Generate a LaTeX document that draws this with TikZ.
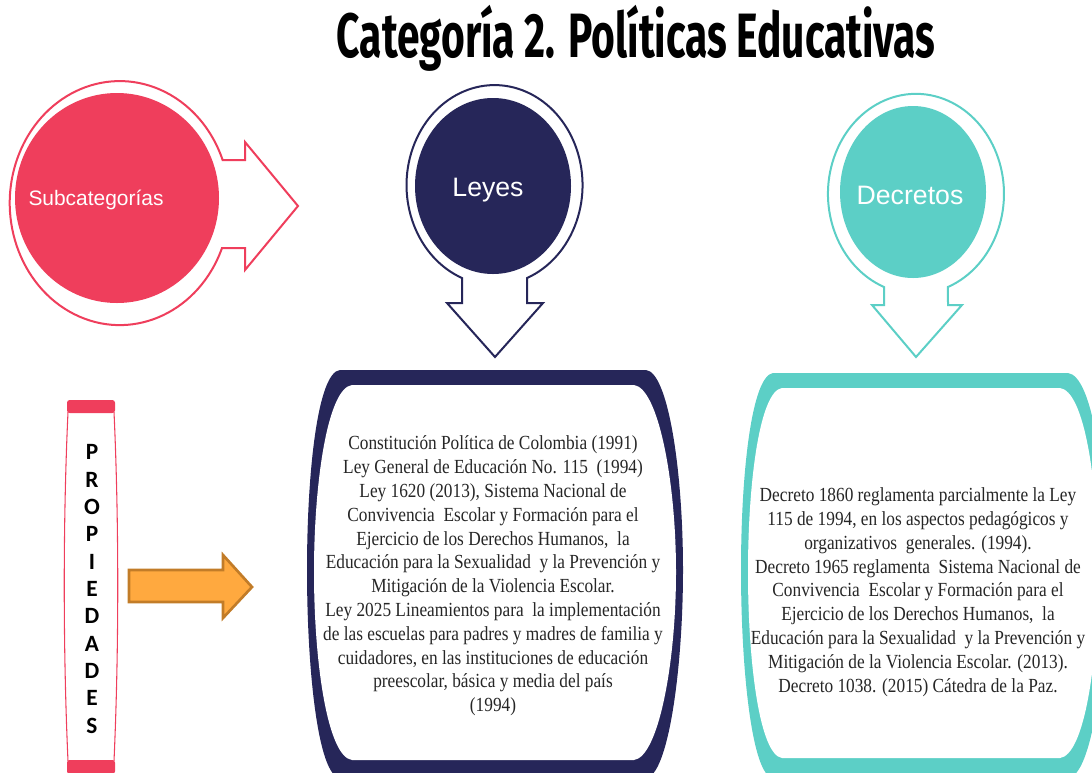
\documentclass[tikz,border=0pt]{standalone}
\usepackage{fontspec}
\usepackage{tikz}
\usetikzlibrary{calc}
\setmainfont{Liberation Serif}
\newfontfamily\bodyfont{Liberation Serif}[FakeStretch=0.865]
\newfontfamily\titlefont{Fira Sans}[FakeStretch=0.65]
\newfontfamily\labelfont{Liberation Sans}
\newfontfamily\propfont{Carlito}
\definecolor{pinkc}{HTML}{EF3E5C}
\definecolor{navyc}{HTML}{262659}
\definecolor{tealc}{HTML}{5CCFC6}
\definecolor{orangec}{HTML}{FFA93F}
\definecolor{orangeline}{HTML}{C27C28}
\definecolor{textc}{HTML}{262626}
\tikzset{
  ring/.style={fill=white, line width=1.5},
  circlab/.style={text=white, font=\labelfont\fontsize{20}{24}\selectfont},
  boxtext/.style={text=textc, align=center, font=\bodyfont\fontsize{15}{17.85}\selectfont},
}
\begin{document}
\begin{tikzpicture}[x=0.75pt,y=-0.75pt]
  \useasboundingbox (0,0) rectangle (1092,772);

  \node[font=\titlefont\bfseries\fontsize{47}{50}\selectfont] (title) at (636,38) {Categoría 2. Políticas Educativas};

  % Subcategorias: ring with arrow to the right
  \draw[ring, draw=pinkc] (222,248) arc[start angle=21.6, end angle=339.4, x radius=110, y radius=122]
    -- (245,160) -- (245,142) -- (298,206) -- (245,270) -- (245,248) -- cycle;
  \fill[pinkc] (117,198) ellipse[x radius=102, y radius=105];
  \node[circlab, font=\labelfont\fontsize{15.7}{19}\selectfont] (subcat) at (96,200) {Subcategorías};

  % Leyes: ring with arrow down
  \draw[ring, draw=navyc] (462,278) arc[start angle=111.7, end angle=428.3, x radius=88, y radius=100]
    -- (527,303) -- (543,303) -- (495,357) -- (447,303) -- (462,303) -- cycle;
  \fill[navyc] (493,186) ellipse[x radius=78, y radius=88];
  \node[circlab] (leyes) at (488,190) {Leyes};

  % Decretos: ring with arrow down
  \draw[ring, draw=tealc] (884,287) arc[start angle=111.3, end angle=428.7, x radius=88, y radius=100]
    -- (948,305) -- (962,305) -- (916,357) -- (872,305) -- (884,305) -- cycle;
  \fill[tealc] (913,192) ellipse[x radius=73, y radius=86];
  \node[circlab] (decretos) at (910,195) {Decretos};

  % Propiedades bar
  \fill[pinkc, rounded corners=2] (67,400) rectangle (115,413);
  \fill[pinkc, rounded corners=2] (67,760) rectangle (115,774);
  \draw[pinkc, line width=0.8] (68,412) .. controls (63,520) and (63,650) .. (68,761);
  \draw[pinkc, line width=0.8] (114,412) .. controls (119,520) and (119,650) .. (114,761);
  \node[align=center, font=\propfont\bfseries\fontsize{17.5}{20.5}\selectfont] (prop) at (92,589)
    {P\\R\\O\\P\\I\\E\\D\\A\\D\\E\\S};

  \draw[fill=orangec, draw=orangeline, line width=2] (129,570) -- (223,570) -- (223,555) -- (252,587)
    -- (223,618) -- (223,602) -- (129,602) -- cycle;

  % Leyes box
  \fill[navyc] (340,370) -- (646,370) .. controls (668,372) and (683,470) .. (683,570)
    .. controls (683,670) and (668,776) .. (646,778) -- (340,778)
    .. controls (318,776) and (307,670) .. (307,570) .. controls (307,470) and (318,372) .. (340,370) -- cycle;
  \fill[white] (352,385) -- (634,385) .. controls (658,388) and (676,480) .. (676,572)
    .. controls (676,665) and (658,757) .. (634,760) -- (352,760)
    .. controls (328,757) and (314,665) .. (314,572) .. controls (314,480) and (328,388) .. (352,385) -- cycle;
  \node[boxtext] (leyesbox) at (493,576) {Constitución Política de Colombia (1991)\\
    Ley General de Educación No. 115 \ (1994)\\
    Ley 1620 (2013), Sistema Nacional de\\
    Convivencia \ Escolar y Formación para el\\
    Ejercicio de los Derechos Humanos, \ la\\
    Educación para la Sexualidad \ y la Prevención y\\
    Mitigación de la Violencia Escolar.\\
    Ley 2025 Lineamientos para \ la implementación\\
    de las escuelas para padres y madres de familia y\\
    cuidadores, en las instituciones de educación\\
    preescolar, básica y media del país\\
    (1994)};

  % Decretos box
  \fill[tealc] (773,373) -- (1068,373) .. controls (1092,376) and (1106,470) .. (1106,570)
    .. controls (1106,670) and (1092,776) .. (1068,778) -- (773,778)
    .. controls (752,776) and (741,670) .. (741,570) .. controls (741,470) and (752,376) .. (773,373) -- cycle;
  \fill[white] (782,388) -- (1060,388) .. controls (1084,391) and (1098,480) .. (1098,572)
    .. controls (1098,665) and (1084,755) .. (1060,758) -- (782,758)
    .. controls (760,755) and (748,665) .. (748,572) .. controls (748,480) and (760,391) .. (782,388) -- cycle;
  \node[boxtext] (decbox) at (918,592) {Decreto 1860 reglamenta parcialmente la Ley\\
    115 de 1994, en los aspectos pedagógicos y\\
    organizativos \ generales. (1994).\\
    Decreto 1965 reglamenta \ Sistema Nacional de\\
    Convivencia \ Escolar y Formación para el\\
    Ejercicio de los Derechos Humanos, \ la\\
    Educación para la Sexualidad \ y la Prevención y\\
    Mitigación de la Violencia Escolar. (2013).\\
    Decreto 1038. (2015) Cátedra de la Paz.};
\end{tikzpicture}
\end{document}
